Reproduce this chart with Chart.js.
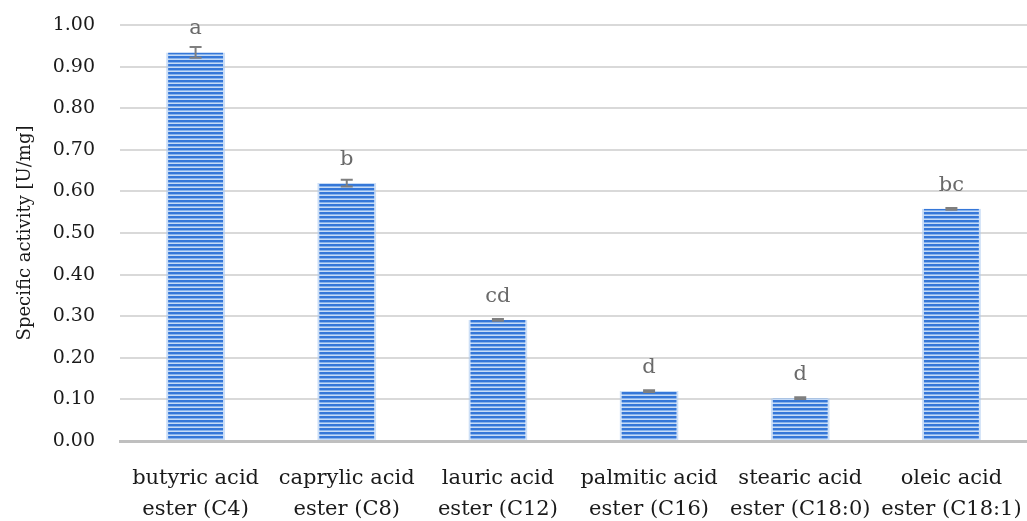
<!DOCTYPE html>
<html>
<head>
<meta charset="utf-8">
<script src="https://cdn.jsdelivr.net/npm/chart.js@4/dist/chart.umd.min.js"></script>
<style>
  html, body { margin: 0; padding: 0; background: #ffffff; }
  #wrap { width: 1027px; height: 521px; position: relative; }
</style>
</head>
<body>
<div id="wrap"><canvas id="chart"></canvas></div>
<script>
// Substrates tested
const categories = [
  ['butyric acid', 'ester (C4)'],
  ['caprylic acid', 'ester (C8)'],
  ['lauric acid', 'ester (C12)'],
  ['palmitic acid', 'ester (C16)'],
  ['stearic acid', 'ester (C18:0)'],
  ['oleic acid', 'ester (C18:1)']
];
// Specific activity [U/mg] and standard deviation
const activity = [0.934, 0.620, 0.291, 0.120, 0.103, 0.558];
const deviation = [0.013, 0.008, 0.002, 0.002, 0.002, 0.002];
// Statistical grouping letters
const groups = ['a', 'b', 'cd', 'd', 'd', 'bc'];
const yTicks = [0, 0.1, 0.2, 0.3, 0.4, 0.5, 0.6, 0.7, 0.8, 0.9, 1.0];

const FONT = '"DejaVu Serif", "Liberation Serif", serif';

// Horizontal striped fill for the bars
function stripes() {
  const c = document.createElement('canvas');
  c.width = 8; c.height = 4;
  const g = c.getContext('2d');
  g.fillStyle = '#3577d8'; g.fillRect(0, 0, 8, 2);
  g.fillStyle = '#86b2ec'; g.fillRect(0, 2, 8, 1);
  g.fillStyle = '#c6dbf6'; g.fillRect(0, 3, 8, 1);
  return g.createPattern(c, 'repeat');
}

// Error bars drawn from the y scale
const errorBars = {
  id: 'errorBars',
  afterDatasetsDraw(chart) {
    const { ctx, scales: { y } } = chart;
    const meta = chart.getDatasetMeta(0);
    ctx.save();
    ctx.strokeStyle = '#7f7f7f';
    ctx.lineWidth = 2;
    meta.data.forEach((bar, i) => {
      const hi = y.getPixelForValue(activity[i] + deviation[i]);
      const lo = y.getPixelForValue(activity[i] - deviation[i]);
      const x = bar.x;
      ctx.beginPath();
      ctx.moveTo(x, hi); ctx.lineTo(x, lo);
      ctx.moveTo(x - 6, hi); ctx.lineTo(x + 6, hi);
      ctx.moveTo(x - 6, lo); ctx.lineTo(x + 6, lo);
      ctx.stroke();
    });
    ctx.restore();
  }
};

// Group letters above each bar
const groupLabels = {
  id: 'groupLabels',
  afterDatasetsDraw(chart) {
    const { ctx } = chart;
    const meta = chart.getDatasetMeta(0);
    ctx.save();
    ctx.fillStyle = '#6a6a6a';
    ctx.font = '21px ' + FONT;
    ctx.textAlign = 'center';
    ctx.textBaseline = 'alphabetic';
    meta.data.forEach((bar, i) => {
      ctx.fillText(groups[i], bar.x, bar.y - 18);
    });
    ctx.restore();
  }
};

new Chart(document.getElementById('chart'), {
  type: 'bar',
  data: {
    labels: categories,
    datasets: [{
      data: activity,
      backgroundColor: stripes(),
      borderColor: 'rgba(170,202,242,0.6)',
      borderWidth: { left: 2, right: 2, top: 0, bottom: 0 },
      borderSkipped: false,
      barPercentage: 0.39,
      categoryPercentage: 1.0
    }]
  },
  options: {
    responsive: true,
    maintainAspectRatio: false,
    animation: false,
    layout: { padding: { top: 25, right: 0, bottom: 0, left: 0 } },
    plugins: {
      legend: { display: false },
      tooltip: { enabled: false }
    },
    scales: {
      x: {
        afterFit(scale) {
          scale.height = 80;
          scale.paddingLeft = 0;
          scale.paddingRight = 0;
        },
        grid: { display: false, drawTicks: false },
        border: { display: true, color: '#bfbfbf', width: 3 },
        ticks: {
          color: '#1a1a1a',
          font: { family: FONT, size: 21, lineHeight: 1.48 },
          padding: 22,
          maxRotation: 0,
          autoSkip: false
        }
      },
      y: {
        min: 0,
        max: 1.0,
        afterBuildTicks(scale) {
          scale.ticks = yTicks.map(v => ({ value: v }));
        },
        afterFit(scale) {
          scale.width = 120;
          scale.paddingTop = 0;
          scale.paddingBottom = 0;
        },
        grid: { color: '#d9d9d9', lineWidth: 2, drawTicks: false },
        border: { display: false },
        ticks: {
          color: '#1a1a1a',
          font: { family: FONT, size: 19 },
          padding: 25,
          callback: v => Number(v).toFixed(2)
        },
        title: {
          display: true,
          text: 'Specific activity [U/mg]',
          color: '#1a1a1a',
          font: { family: FONT, size: 18 },
          padding: { top: 15, bottom: 0 }
        }
      }
    }
  },
  plugins: [errorBars, groupLabels]
});
</script>
</body>
</html>
